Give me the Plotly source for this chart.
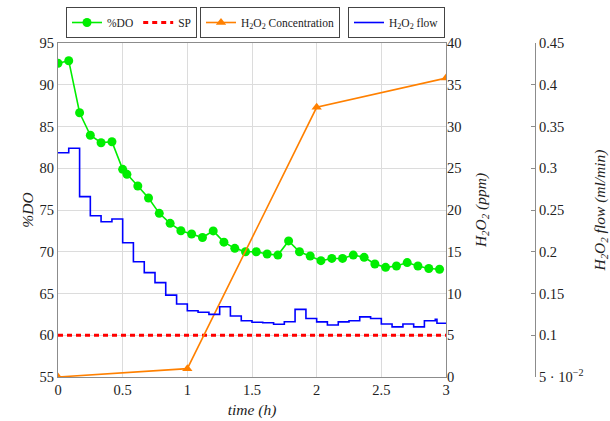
import plotly.graph_objects as go

# ---------------- data ----------------
do_time = [0, 0.083, 0.167, 0.25, 0.333, 0.417, 0.5, 0.533, 0.617, 0.7, 0.783, 0.867,
           0.95, 1.033, 1.117, 1.2, 1.283, 1.367, 1.45, 1.533, 1.617, 1.7, 1.783, 1.867,
           1.95, 2.033, 2.117, 2.2, 2.283, 2.367, 2.45, 2.533, 2.617, 2.7, 2.783, 2.867, 2.95]
do_values = [92.57, 92.88, 86.65, 83.95, 83.06, 83.18, 79.87, 79.27, 77.87, 76.44, 74.6, 73.4,
             72.52, 72.13, 71.7, 72.5, 71.15, 70.41, 70.0, 70.0, 69.73, 69.6, 71.3, 70.0,
             69.49, 68.93, 69.2, 69.2, 69.6, 69.33, 68.53, 68.13, 68.3, 68.7, 68.3, 68.0, 67.9]

sp_time = [0, 3]
sp_values = [60, 60]

conc_time = [0, 1, 2, 3]
conc_values = [0.0, 1.0, 32.3, 35.8]

flow_time = [0, 0.083, 0.167, 0.25, 0.333, 0.417, 0.5, 0.583, 0.667, 0.75, 0.833, 0.917,
             1.0, 1.083, 1.167, 1.25, 1.333, 1.417, 1.5, 1.583, 1.667, 1.75, 1.833, 1.917,
             2.0, 2.083, 2.167, 2.25, 2.333, 2.417, 2.5, 2.583, 2.667, 2.75, 2.833, 2.917,
             2.93, 3.0]
flow_values = [0.3186, 0.3239, 0.266, 0.2432, 0.236, 0.2392, 0.2108, 0.188, 0.175, 0.163,
               0.148, 0.1374, 0.1294, 0.1275, 0.125, 0.1342, 0.123, 0.1174, 0.1155, 0.115,
               0.1132, 0.1162, 0.131, 0.120, 0.116, 0.1123, 0.116, 0.1174, 0.122, 0.120,
               0.1135, 0.110, 0.1135, 0.110, 0.1174, 0.119, 0.1143, 0.1143]

x_ticks = [0, 0.5, 1, 1.5, 2, 2.5, 3]
x_ticklabels = ["0", "0.5", "1", "1.5", "2", "2.5", "3"]
do_ticks = [55, 60, 65, 70, 75, 80, 85, 90, 95]
conc_ticks = [0, 5, 10, 15, 20, 25, 30, 35, 40]
flow_ticks = [0.05, 0.1, 0.15, 0.2, 0.25, 0.3, 0.35, 0.4, 0.45]
flow_ticklabels = ["5 · 10<sup>−2</sup>", "0.1", "0.15", "0.2", "0.25", "0.3", "0.35", "0.4", "0.45"]

# ---------------- layout geometry ----------------
W, H = 610, 421
ML, MR, MT, MB = 58, 10, 43, 44
paper_w = W - ML - MR
plot_w = 388
dom_end = plot_w / paper_w
pos3 = (535 - ML) / paper_w

FONT = "Liberation Serif, Times New Roman, DejaVu Serif, serif"
AX = "#8c8c8c"
GRID = "#dcdcdc"
TXT = "#222222"

fig = go.Figure()

fig.add_trace(go.Scatter(x=do_time, y=do_values, name="%DO", mode="lines+markers",
                         line=dict(color="#00ee00", width=1.6),
                         marker=dict(symbol="circle", size=9, color="#00ee00"),
                         yaxis="y", legend="legend"))
fig.add_trace(go.Scatter(x=sp_time, y=sp_values, name="SP", mode="lines",
                         line=dict(color="#ff0000", width=3, dash="5px,4px"),
                         yaxis="y", legend="legend"))
fig.add_trace(go.Scatter(x=conc_time, y=conc_values,
                         name="H<sub>2</sub>O<sub>2</sub> Concentration", mode="lines+markers",
                         line=dict(color="#ff8000", width=1.6),
                         marker=dict(symbol="triangle-up", size=9, color="#ff8000"),
                         yaxis="y2", legend="legend2"))
fig.add_trace(go.Scatter(x=flow_time, y=flow_values,
                         name="H<sub>2</sub>O<sub>2</sub> flow", mode="lines",
                         line=dict(color="#0000ff", width=1.6, shape="hv"),
                         yaxis="y3", legend="legend3"))

tickfont = dict(family=FONT, size=14.5, color=TXT)
titlefont = dict(family=FONT, size=15.5, color=TXT)

def legend_box(xpx):
    return dict(x=(xpx - ML) / paper_w, y=1 + (MT - 7) / (H - MT - MB),
                xanchor="left", yanchor="top", orientation="h",
                bgcolor="white", bordercolor="#444444", borderwidth=1,
                font=dict(family=FONT, size=11.5, color=TXT),
                itemwidth=30, tracegroupgap=0)

fig.update_layout(
    width=W, height=H,
    margin=dict(l=ML, r=MR, t=MT, b=MB, autoexpand=False),
    paper_bgcolor="white", plot_bgcolor="white",
    xaxis=dict(domain=[0, dom_end], range=[0, 3], tickvals=x_ticks, ticktext=x_ticklabels,
               showline=True, mirror=True, linecolor=AX, linewidth=1,
               showgrid=True, gridcolor=GRID, zeroline=False, ticks="",
               tickfont=tickfont, automargin=False,
               title=dict(text="<i>time (h)</i>", font=titlefont, standoff=6)),
    yaxis=dict(range=[55, 95], tickvals=do_ticks, showline=True, mirror=True,
               linecolor=AX, linewidth=1, showgrid=True, gridcolor=GRID, zeroline=False,
               ticks="", tickfont=tickfont, automargin=False,
               title=dict(text="<i>%DO</i>", font=titlefont, standoff=2)),
    yaxis2=dict(range=[0, 40], tickvals=conc_ticks, overlaying="y", side="right",
                anchor="x", showgrid=False, zeroline=False, showline=False,
                ticks="", tickfont=tickfont, automargin=False,
                title=dict(text="<i>H<sub>2</sub>O<sub>2</sub> (ppm)</i>", font=titlefont, standoff=14)),
    yaxis3=dict(range=[0.05, 0.45], tickvals=flow_ticks, ticktext=flow_ticklabels,
                overlaying="y", side="right", anchor="free", position=pos3,
                showgrid=False, zeroline=False, showline=True, linecolor=AX, linewidth=1,
                ticks="inside", ticklen=4, tickcolor=AX, tickfont=tickfont, automargin=False,
                title=dict(text="<i>H<sub>2</sub>O<sub>2</sub> flow (ml/min)</i>", font=titlefont, standoff=13)),
    legend=legend_box(66),
    legend2=legend_box(200),
    legend3=legend_box(348),
    showlegend=True,
)

fig.write_html("out.html")
